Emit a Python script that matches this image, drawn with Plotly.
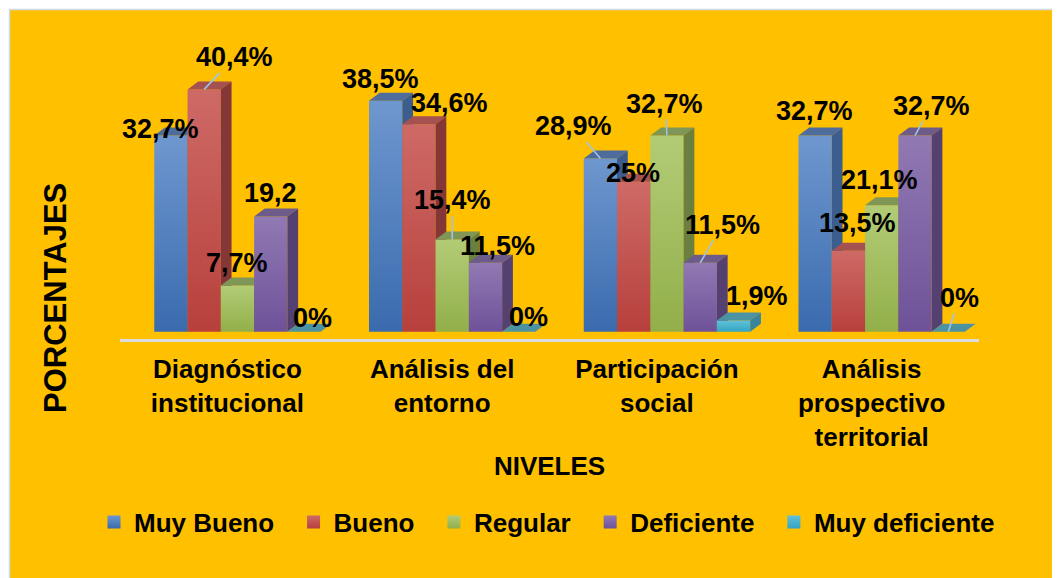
import plotly.graph_objects as go

# ---------------- data ----------------
categories = ["Diagnóstico<br>institucional", "Análisis del<br>entorno",
              "Participación<br>social", "Análisis<br>prospectivo<br>territorial"]
series_names = ["Muy Bueno", "Bueno", "Regular", "Deficiente", "Muy deficiente"]
muy_bueno = [32.7, 38.5, 28.9, 32.7]
bueno = [40.4, 34.6, 25.0, 13.5]
regular = [7.7, 15.4, 32.7, 21.1]
deficiente = [19.2, 11.5, 11.5, 32.7]
muy_deficiente = [0.0, 0.0, 1.9, 0.0]
label_muy_bueno = ["32,7%", "38,5%", "28,9%", "32,7%"]
label_bueno = ["40,4%", "34,6%", "25%", "13,5%"]
label_regular = ["7,7%", "15,4%", "32,7%", "21,1%"]
label_deficiente = ["19,2", "11,5%", "11,5%", "32,7%"]
label_muy_deficiente = ["0%", "0%", "1,9%", "0%"]
y_title = "PORCENTAJES"
x_title = "NIVELES"

series_values = [muy_bueno, bueno, regular, deficiente, muy_deficiente]
series_labels = [label_muy_bueno, label_bueno, label_regular, label_deficiente, label_muy_deficiente]

# ---------------- style ----------------
W, H = 1060, 578
PAGE_OFF = 8                      # page body margin of the html page
PLOT_L, PLOT_R, PLOT_T, PLOT_B = 120, 979, 30, 339   # plot area in screen px
ML = PLOT_L - PAGE_OFF
MR = W - (PLOT_R - PAGE_OFF)
MT = PLOT_T - PAGE_OFF
MB = H - (PLOT_B - PAGE_OFF)
X_RANGE = [-0.5, 3.5]
Y_RANGE = [-1.2, 50.3]
BAR_W = 0.155
BAR_SHIFT = 0.047
DX = 0.05
DY = 1.33
FONT = "Liberation Sans, Arial, sans-serif"
BG = "#FFC000"
NBSP = "\u00a0"

front_grad = [("#3A6BAE", "#6F97CF"), ("#B7403C", "#CE6A66"), ("#92AF4A", "#B2CC76"),
              ("#6E5299", "#9179B3"), ("#34A4C2", "#60C1D9")]
top_cols = ["#4E6D9C", "#A4514F", "#7F9656", "#6D5B8A", "#4B93A3"]
side_cols = ["#3C5E8E", "#853636", "#6A7F40", "#554072", "#39849A"]
leader_col = "#9DC3E6"

# label offsets (px) from bar top: (dx, dy, leader line)
label_offsets = [
    [(-10, -7, False), (-5, -22, False), (-27, -32, True), (-1, -25, False)],
    [(30, -32, True), (31, -21, False), (-1, -9, False), (9.5, -28, False)],
    [(0, -23, False), (0, -39, True), (-2, -32, True), (-2, -25, False)],
    [(0, -24, False), (12, -17, False), (22, -38, True), (16, -30, True)],
    [(8, -14, False), (10, -15, False), (23, -24, False), (11, -34, True)],
]

pw = W - ML - MR
ph = H - MT - MB


def px_x(p):
    return (p - PAGE_OFF - ML) / pw


def px_y(p):
    return (H - MB - (p - PAGE_OFF)) / ph


n_series = len(series_names)
fig = go.Figure()
annotations = []

for j, (name, vals) in enumerate(zip(series_names, series_values)):
    for i, v in enumerate(vals):
        xc = i + BAR_SHIFT + (j - (n_series - 1) / 2) * BAR_W
        x0, x1 = xc - BAR_W / 2, xc + BAR_W / 2
        if v > 0:
            fig.add_trace(go.Scatter(
                x=[x0, x1, x1, x0, x0], y=[0, 0, v, v, 0], mode="none", fill="toself",
                fillgradient=dict(type="vertical",
                                  colorscale=[[0, front_grad[j][0]], [1, front_grad[j][1]]]),
                hoverinfo="skip", showlegend=False))
        fig.add_trace(go.Scatter(
            x=[x0, x1, x1 + DX, x0 + DX, x0], y=[v, v, v + DY, v + DY, v],
            mode="none", fill="toself", fillcolor=top_cols[j],
            hoverinfo="skip", showlegend=False))
        if v > 0:
            fig.add_trace(go.Scatter(
                x=[x1, x1 + DX, x1 + DX, x1, x1], y=[0, DY, v + DY, v, 0],
                mode="none", fill="toself", fillcolor=side_cols[j],
                hoverinfo="skip", showlegend=False))
        dx, dy, lead = label_offsets[j][i]
        annotations.append(dict(
            x=xc, y=v, xref="x", yref="y", text=series_labels[j][i],
            showarrow=True, arrowhead=0, arrowwidth=1.6,
            arrowcolor=leader_col if lead else "rgba(0,0,0,0)",
            ax=dx, ay=dy, standoff=0, borderpad=0,
            font=dict(family=FONT, size=27, color="black", weight="bold")))

# y axis title
annotations.append(dict(
    x=px_x(55), y=px_y(298), xref="paper", yref="paper", text=y_title,
    showarrow=False, textangle=-90, xanchor="center", yanchor="middle",
    font=dict(family=FONT, size=31, color="black", weight="bold")))

# legend entries
for j, name in enumerate(series_names):
    fig.add_trace(go.Scatter(
        x=[None], y=[None], mode="markers", name=name + NBSP * 2,
        marker=dict(symbol="square", size=13, color=front_grad[j][1],
                    gradient=dict(type="vertical", color=front_grad[j][0]),
                    line=dict(width=0))))

fig.add_shape(type="rect", xref="paper", yref="paper", layer="below",
              x0=px_x(9.5), x1=px_x(W + 20), y0=px_y(H + 20), y1=px_y(9.5),
              fillcolor=BG, line=dict(color="#CBD9E8", width=1.5))

fig.update_layout(
    width=W, height=H,
    margin=dict(l=ML, r=MR, t=MT, b=MB),
    paper_bgcolor="white", plot_bgcolor="rgba(0,0,0,0)",
    font=dict(family=FONT, size=26, color="black"),
    annotations=annotations,
    showlegend=True,
    legend=dict(orientation="h", x=px_x(94), xanchor="left", y=px_y(522), yanchor="middle",
                bgcolor="rgba(0,0,0,0)", font=dict(family=FONT, size=26, weight="bold"),
                itemwidth=30),
    xaxis=dict(range=X_RANGE, tickvals=list(range(len(categories))), ticktext=categories,
               showgrid=False, zeroline=False, showline=True, linecolor="#DCDCDC", linewidth=3,
               ticks="", ticklabelstandoff=5,
               tickfont=dict(family=FONT, size=26, weight="bold"),
               title=dict(text=x_title, font=dict(family=FONT, size=26, weight="bold"),
                          standoff=7),
               fixedrange=True),
    yaxis=dict(range=Y_RANGE, showgrid=False, zeroline=False, showline=False,
               showticklabels=False, ticks="", fixedrange=True),
)

fig.write_html("out.html")
